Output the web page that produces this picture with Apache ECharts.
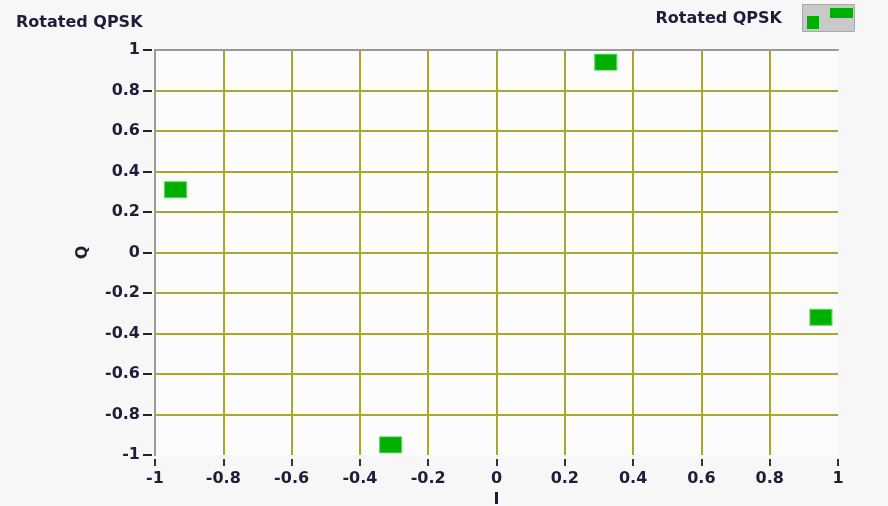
<!DOCTYPE html>
<html>
<head>
<meta charset="utf-8">
<style>
  html, body { margin: 0; padding: 0; background: #f7f7f7; }
  #chart { width: 888px; height: 506px; }
</style>
<script src="https://cdn.jsdelivr.net/npm/echarts@6/dist/echarts.min.js"></script>
</head>
<body>
<div id="chart"></div>
<script>
// Constellation points of the rotated QPSK signal
const seriesName = 'Rotated QPSK';
const iValues = [0.32, -0.94, -0.31, 0.95];
const qValues = [0.94, 0.31, -0.95, -0.32];
const axisTicks = [-1, -0.8, -0.6, -0.4, -0.2, 0, 0.2, 0.4, 0.6, 0.8, 1];

const font = 'DejaVu Sans';
const textColor = '#1e1e3a';
const gridColor = '#a9a82a';
const textStyle = { fontFamily: font, fontSize: 16, fontWeight: 'bold', color: textColor };

const points = iValues.map((v, k) => [v, qValues[k]]);
const fmt = v => String(Math.round(v * 10) / 10);
const axisRange = { min: axisTicks[0], max: axisTicks[axisTicks.length - 1], interval: 0.2 };

const chart = echarts.init(document.getElementById('chart'));
chart.setOption({
  backgroundColor: '#f7f7f7',
  animation: false,
  title: {
    text: seriesName,
    left: 16, top: 15, padding: 0,
    textStyle: Object.assign({}, textStyle)
  },
  legend: {
    right: 35, top: 8, padding: 0,
    align: 'right',
    itemWidth: 46, itemHeight: 21,
    icon: 'path://M0,8H12V21H0Z M23,0H46V10H23Z',
    itemStyle: { borderWidth: 0, color: '#00b000' },
    textStyle: Object.assign({ padding: [0, 20, 0, 0] }, textStyle),
    data: [seriesName]
  },
  graphic: [{
    type: 'rect', right: 33, top: 4, z: -1,
    shape: { width: 52, height: 27 },
    style: { fill: '#c9c9c9', stroke: '#a8a8a8', lineWidth: 1 }
  }],
  grid: {
    left: 155, right: 50, top: 50, bottom: 51,
    outerBoundsMode: 'none', containLabel: false,
    show: true, backgroundColor: '#fcfcfc', borderWidth: 0
  },
  xAxis: [Object.assign({
    type: 'value', position: 'top',
    axisLine: { show: true, onZero: false, lineStyle: { color: '#9a9a9a', width: 2 } },
    axisTick: { show: false }, axisLabel: { show: false },
    splitLine: { show: true, showMinLine: false, showMaxLine: false, lineStyle: { color: gridColor, width: 2 } }
  }, axisRange), Object.assign({
    type: 'value', position: 'bottom', offset: 4,
    name: 'I', nameLocation: 'middle', nameGap: 32,
    nameTextStyle: Object.assign({}, textStyle),
    axisLine: { show: false, onZero: false },
    axisTick: { show: true, length: 7, lineStyle: { color: '#333', width: 2 } },
    axisLabel: Object.assign({ margin: 12, formatter: fmt }, textStyle),
    splitLine: { show: false }
  }, axisRange)],
  yAxis: [Object.assign({
    type: 'value', position: 'left',
    axisLine: { show: true, onZero: false, lineStyle: { color: '#9a9a9a', width: 2 } },
    axisTick: { show: false }, axisLabel: { show: false },
    splitLine: { show: true, showMinLine: false, showMaxLine: false, lineStyle: { color: gridColor, width: 2 } }
  }, axisRange), Object.assign({
    type: 'value', position: 'left', offset: 3,
    name: 'Q', nameLocation: 'middle', nameGap: 61, nameRotate: 90,
    nameTextStyle: Object.assign({}, textStyle),
    axisLine: { show: false, onZero: false },
    axisTick: { show: true, length: 9, lineStyle: { color: '#222', width: 2 } },
    axisLabel: Object.assign({ margin: 12, formatter: fmt }, textStyle),
    splitLine: { show: false }
  }, axisRange)],
  series: [{
    name: seriesName,
    type: 'scatter',
    xAxisIndex: 0, yAxisIndex: 0,
    symbol: 'rect',
    symbolSize: [22, 16],
    itemStyle: { color: '#00b000', borderColor: '#5cd25c', borderWidth: 1, opacity: 1 },
    data: points
  }]
});
</script>
</body>
</html>
